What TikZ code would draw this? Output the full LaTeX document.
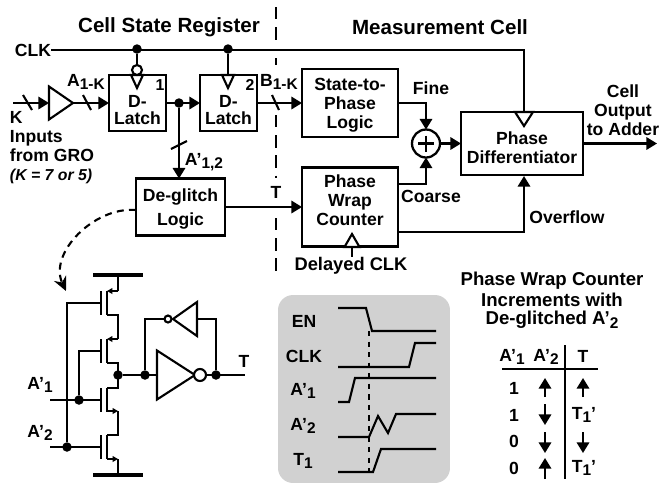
\documentclass[tikz,border=0pt]{standalone}
\usepackage{fontspec}
\setmainfont{Liberation Sans}
\usetikzlibrary{arrows.meta,shapes.geometric}
\newcommand{\low}[1]{\raisebox{-0.4ex}{\fontsize{8.8}{10}\selectfont #1}}
\tikzset{every node/.style={font=\fontsize{10}{10.8}\selectfont\bfseries,inner sep=0pt,outer sep=0pt,align=center},
	wire/.style={line width=1.2pt},
	sig/.style={line width=1.2pt,-{Triangle[length=6pt,width=7pt]}},
	src/.style={line width=1.2pt,-{Triangle[length=3pt,width=3.2pt]}},
	block/.style={draw,line width=1.2pt,rectangle,text depth=0pt},
	dot/.style={circle,fill=black,minimum size=5.4pt},
	bubble/.style={circle,draw,line width=1.2pt,fill=white},
	tri/.style={isosceles triangle,isosceles triangle stretches,draw,line width=1.2pt,fill=white},
	rail/.style={line width=2.4pt},
	big/.style={font=\fontsize{11.7}{13}\selectfont\bfseries},
	head/.style={font=\fontsize{10.6}{12}\selectfont\bfseries}}

\begin{document}
\begin{tikzpicture}
    [x=0.02cm,y=-0.02cm]
    \useasboundingbox (0,0) rectangle (670,485);
    \node[big] (title1) at (169,27) {Cell State Register};
    \node[big] (title2) at (440,27) {Measurement Cell};
    \foreach \a/\b in {7/40,58/65,115/178,218/275}
    \draw[wire,dash pattern=on 7pt off 4.5pt] (276,\a) -- (276,\b);
    \node[block,minimum width=1.14cm,minimum height=1.12cm] (l1) at (137.5,103) {};
    \node[block,minimum width=1.14cm,minimum height=1.12cm] (l2) at (228.5,103) {};
    \node (tl1) at (137.5,110) {D-\\[-0.6pt]Latch};
    \node (tl2) at (228.5,110) {D-\\[-0.6pt]Latch};
    \node[block,minimum width=1.78cm,minimum height=1.14cm] (dl) at (180.5,207) {De-glitch\\[3.2pt]Logic};
    \node[block,minimum width=1.92cm,minimum height=1.36cm] (st) at (350,103) {State-to-\\Phase\\Logic};
    \node[block,minimum width=1.92cm,minimum height=1.58cm] (pw) at (350,207) {};
    \node (tpw) at (350,200) {Phase\\Wrap\\Counter};
    \node[block,minimum width=2.44cm,minimum height=1.26cm] (pd) at (522,143.5) {};
    \node (tpd) at (522,148) {Phase\\Differentiator};
    \node[circle,draw,line width=1.3pt,minimum size=0.56cm] (sum) at (426,143.5) {};
    \draw[wire] (sum.center) ++(-8,0) -- ++(16,0);
    \draw[wire] (sum.center) ++(0,-8) -- ++(0,16);
    \node[dot] (d1) at (137,49) {};
    \node[dot] (d2) at (228,49) {};
    \node[dot] (d3) at (179,103) {};
    \node[tri,shape border rotate=-90,minimum width=0.24cm,minimum height=0.26cm,anchor=apex] (c1) at (137,88) {};
    \node[tri,shape border rotate=-90,minimum width=0.24cm,minimum height=0.26cm,anchor=apex] (c2) at (228,88) {};
    \node[tri,shape border rotate=-90,minimum width=0.36cm,minimum height=0.28cm,anchor=apex] (c3) at (524,126) {};
    \node[tri,shape border rotate=90,minimum width=0.30cm,minimum height=0.26cm,anchor=apex] (c4) at (352,234) {};
    \node[bubble,minimum size=0.2cm] (b1) at (137,70) {};
    \node[tri,minimum width=0.66cm,minimum height=0.48cm,anchor=apex] (buf) at (73,103) {};
    \node (clk) at (33,50) {CLK};
    \node (a1k) at (86,82) {A\low{1-K}};
    \node (b1k) at (279,82) {B\low{1-K}};
    \node (a12) at (204,162) {A'\low{1,2}};
    \node (t) at (276,192) {T};
    \node (n1) at (160,85) {\fontsize{9}{9}\selectfont 1};
    \node (n2) at (250,85) {\fontsize{9}{9}\selectfont 2};
    \node[anchor=west,align=left] (inp) at (10,148) {K\\Inputs\\from GRO\\{\fontsize{9}{10.8}\selectfont\itshape (K = 7 or 5)}};
    \node (fine) at (431,88) {Fine};
    \node (coarse) at (431,196) {Coarse};
    \node (over) at (567,217) {Overflow};
    \node (out) at (623,110) {Cell\\Output\\to Adder};
    \node[font=\fontsize{10.4}{12}\selectfont\bfseries] (dclk) at (351,266) {Delayed CLK};
    \coordinate (k0) at (13,103);
    \coordinate (pdc) at (524,50);
    \coordinate (pwc) at (398,184);
    \coordinate (pwo) at (398,232);
    \coordinate (pdo) at (524,176);
    \coordinate (oe) at (657,143.5);
    \draw[wire] (clk.east) -- (pdc) -- (c3.north);
    \draw[wire] (d1) -- (b1);
    \draw[wire] (d2) -- (c2.north);
    \draw[sig] (k0) -- (buf.west);
    \draw[sig] (buf.apex) -- (l1.west);
    \draw[sig] (l1.east) -- (l2.west);
    \draw[sig] (d3) -- (dl.north -| d3);
    \draw[sig] (l2.east) -- (st.west);
    \draw[sig] (dl.east) -- (pw.west);
    \draw[sig] (st.east) -| (sum.north);
    \draw[sig] (pwc) -| (sum.south);
    \draw[sig] (sum.east) -- (pd.west);
    \draw[sig] (pd.east) -- (oe);
    \draw[sig] (pwo) -| (pdo);
    \draw[wire] (c4.south) -- (dclk.north -| c4.south);
    \draw[wire] (23,95) -- (32,110);
    \draw[wire] (83,95) -- (91,110);
    \draw[wire] (272,95) -- (279,110);
    \draw[wire] (171,149) -- (187,141);
    \coordinate (gt) at (66,291);
    \draw[wire,dash pattern=on 4pt off 3pt,-{Stealth[length=8pt,width=7.5pt]}] (dl.west) ++(0,3) to[out=175,in=115] (gt);
    % transistors
    \coordinate (vdd) at (118,275);
    \coordinate (gnd) at (118,475);
    \coordinate (mid) at (118,375);
    \draw[rail] (93,275) -- (143,275);
    \draw[rail] (93,475) -- (143,475);
    \foreach \y in {303,351,400,447}
    {
    \draw[wire] (101,\y-12) -- (101,\y+12);
    \draw[wire] (107,\y-12) -- (107,\y+12);
    }
    \draw[src] (118,291) -- (107,291);
    \draw[src] (118,339) -- (107,339);
    \draw[src] (107,411) -- (118,411);
    \draw[src] (107,459) -- (118,459);
    \draw[wire] (vdd) -- (118,291);
    \draw[wire] (107,315) -| (118,339);
    \draw[wire] (107,363) -| (mid);
    \draw[wire] (mid) |- (107,388);
    \draw[wire] (118,411) -- (118,435) -- (107,435);
    \draw[wire] (118,459) -- (gnd);
    \node[dot] (d4) at (79,400) {};
    \node[dot] (d5) at (67,447) {};
    \node[dot] (d6) at (118,375) {};
    \node[dot] (d7) at (145,375) {};
    \node[dot] (d8) at (216,375) {};
    \node (a1) at (40,385) {A'\low{1}};
    \node (a2) at (40,433) {A'\low{2}};
    \draw[wire] (50,400) -- (101,400);
    \draw[wire] (50,447) -- (101,447);
    \draw[wire] (d5) -- (67,303) -- (101,303);
    \draw[wire] (d4) -- (79,351) -- (101,351);
    \node[tri,minimum width=0.98cm,minimum height=0.76cm,anchor=apex] (inv) at (195,375) {};
    \node[bubble,minimum size=0.24cm] (b2) at (200,375) {};
    \node[tri,shape border rotate=180,minimum width=0.68cm,minimum height=0.48cm,anchor=apex] (fb) at (173,319) {};
    \node[bubble,minimum size=0.14cm] (b3) at (168,319) {};
    \node (t2) at (244,361) {T};
    \coordinate (oute) at (245,375);
    \draw[wire] (d6) -- (inv.west);
    \draw[wire] (b2) -- (oute);
    \draw[wire] (d7) |- (b3);
    \draw[wire] (d8) |- (fb.east);
    % waveforms
    \node[fill=black!18,rounded corners=0.3cm,minimum width=3.44cm,minimum height=3.76cm] (gray) at (364,389) {};
    \node (en) at (304,321) {EN};
    \node (cl) at (304,356) {CLK};
    \node (w1) at (303,391) {A'\low{1}};
    \node (w2) at (303,426) {A'\low{2}};
    \node (w3) at (303,461) {T\low{1}};
    \draw[wire] (338,308) -- (366,308) -- (372,331) -- (436,331);
    \draw[wire] (338,367) -- (409,367) -- (415,343) -- (436,343);
    \draw[wire] (338,402) -- (349,402) -- (355,378) -- (436,378);
    \draw[wire] (338,437) -- (369,437) -- (378,416) -- (388,433) -- (396,414) -- (436,414);
    \draw[wire] (338,472) -- (373,472) -- (381,449) -- (436,449);
    \draw[line width=0.6pt,dashed] (369,331) -- (369,472);
    % table
    \node[head] (h1) at (552,281) {Phase Wrap Counter};
    \node[head] (h2) at (552,300) {Increments with};
    \node[head] (h3) at (552,320) {De-glitched A'\low{2}};
    \node (ca) at (512,357) {A'\low{1}};
    \node (cb) at (546,357) {A'\low{2}};
    \node (cc) at (583,356) {T};
    \node (r1) at (514,388) {1};
    \node (r2) at (514,415) {1};
    \node (r3) at (514,441) {0};
    \node (r4) at (514,468) {0};
    \node (s2) at (584,415) {T\low{1}'};
    \node (s4) at (584,468) {T\low{1}'};
    \draw[wire] (502,369) -- (598,369);
    \draw[wire] (565,345) -- (565,479);
    \foreach \x/\a/\b in {545/397/378,545/404/425,545/432/453,545/479/458,583/397/378,583/432/453}
    \draw[sig] (\x,\a) -- (\x,\b);
    \end{tikzpicture}
\end{document}
